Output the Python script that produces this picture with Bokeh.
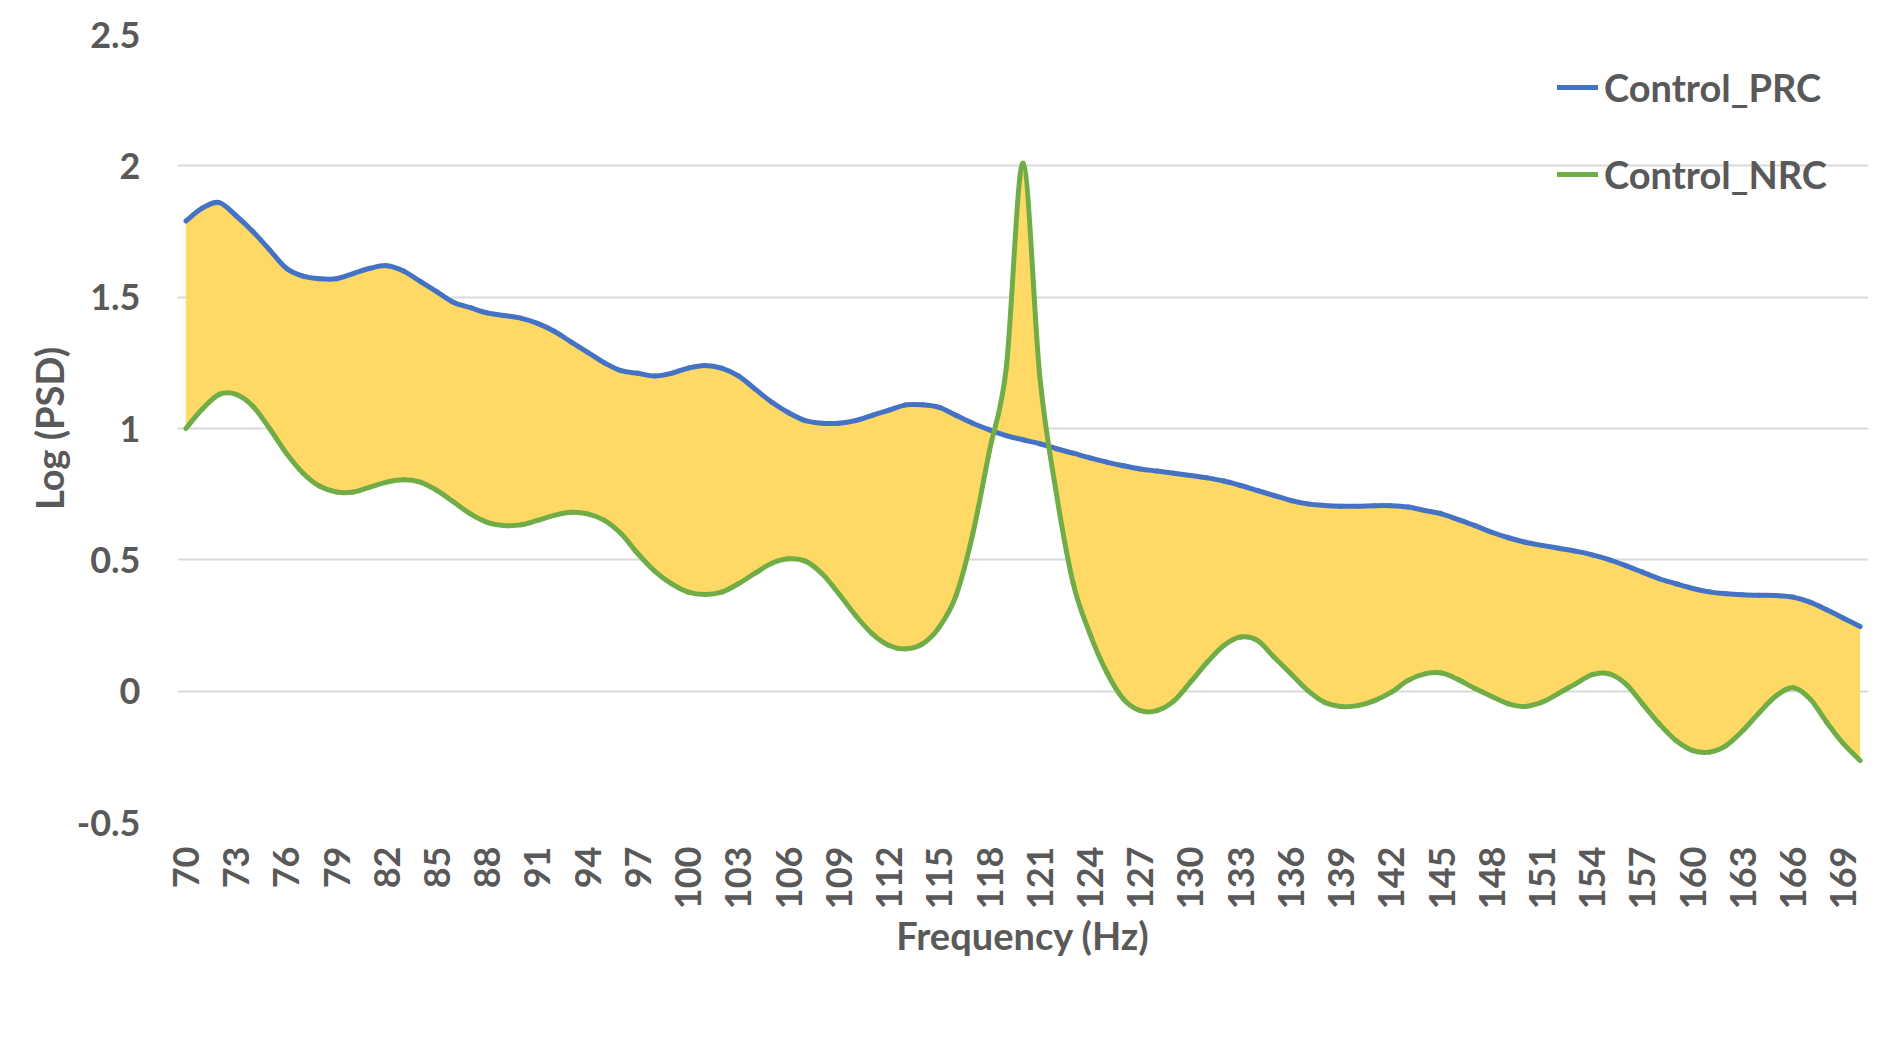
import math
from bokeh.plotting import figure
from bokeh.models import Range1d, FixedTicker, Legend, LegendItem, ColumnDataSource
from bokeh.embed import file_html
from bokeh.resources import INLINE

# ---- data ----
freq = list(range(70, 171))

control_prc = [
    1.79, 1.84, 1.86, 1.81, 1.75, 1.68, 1.61, 1.58, 1.57, 1.57,   # 70-79
    1.59, 1.61, 1.62, 1.60, 1.56, 1.52, 1.48, 1.46, 1.44, 1.43,   # 80-89
    1.42, 1.40, 1.37, 1.33, 1.29, 1.25, 1.22, 1.21, 1.20, 1.21,   # 90-99
    1.23, 1.24, 1.23, 1.20, 1.15, 1.10, 1.06, 1.03, 1.02, 1.02,   # 100-109
    1.03, 1.05, 1.07, 1.09, 1.09, 1.08, 1.05, 1.02, 0.995, 0.973, # 110-119
    0.957, 0.942, 0.923, 0.906, 0.888, 0.872, 0.858, 0.846, 0.838, 0.830,  # 120-129
    0.821, 0.812, 0.800, 0.783, 0.764, 0.745, 0.726, 0.713, 0.707, 0.704,  # 130-139
    0.704, 0.706, 0.706, 0.701, 0.688, 0.675, 0.653, 0.630, 0.605, 0.584,  # 140-149
    0.567, 0.555, 0.544, 0.533, 0.519, 0.501, 0.478, 0.453, 0.428, 0.409,  # 150-159
    0.391, 0.378, 0.371, 0.367, 0.365, 0.364, 0.358, 0.339, 0.310, 0.278,  # 160-169
    0.246,                                                                 # 170
]

control_nrc = [
    1.00, 1.075, 1.13, 1.13, 1.085, 1.00, 0.906, 0.83, 0.78, 0.758,        # 70-79
    0.758, 0.777, 0.796, 0.805, 0.796, 0.764, 0.72, 0.675, 0.643, 0.631,   # 80-89
    0.633, 0.65, 0.669, 0.681, 0.675, 0.65, 0.599, 0.523, 0.457, 0.409,    # 90-99
    0.377, 0.368, 0.377, 0.409, 0.449, 0.487, 0.504, 0.495, 0.447, 0.371,  # 100-109
    0.288, 0.218, 0.174, 0.161, 0.18, 0.244, 0.364, 0.599, 0.916, 1.23,    # 110-119
    2.01, 1.2, 0.75, 0.41, 0.218, 0.072, -0.03, -0.074, -0.074, -0.038,    # 120-129
    0.034, 0.11, 0.174, 0.206, 0.193, 0.129, 0.066, 0.003, -0.042, -0.058, # 130-139
    -0.055, -0.036, -0.004, 0.041, 0.066, 0.069, 0.044, 0.01, -0.02, -0.048,  # 140-149
    -0.058, -0.042, -0.008, 0.028, 0.063, 0.066, 0.028, -0.048, -0.124, -0.188,  # 150-159
    -0.226, -0.232, -0.207, -0.15, -0.08, -0.017, 0.013, -0.029, -0.118, -0.2,   # 160-169
    -0.264,                                                                      # 170
]

series_names = ["Control_PRC", "Control_NRC"]
x_ticks = list(range(70, 170, 3))
y_ticks = [-0.5, 0, 0.5, 1, 1.5, 2, 2.5]
y_tick_labels = ["-0.5", "0", "0.5", "1", "1.5", "2", "2.5"]

FONT = "Lato"
TEXT_COLOR = "#595959"
TICK_FS = "36px"
TITLE_FS = "38px"


def smooth_segments(xs, ys):
    """Spreadsheet-style smoothed line: one cubic Bezier per pair of
    neighbouring data points, control points taken from the neighbours."""
    n = len(xs)
    cols = {k: [] for k in ("x0", "y0", "x1", "y1", "cx0", "cy0", "cx1", "cy1")}
    for i in range(n - 1):
        a, d = max(i - 1, 0), min(i + 2, n - 1)
        cols["x0"].append(xs[i]); cols["y0"].append(ys[i])
        cols["x1"].append(xs[i + 1]); cols["y1"].append(ys[i + 1])
        cols["cx0"].append(xs[i] + (xs[i + 1] - xs[a]) / 6.0)
        cols["cy0"].append(ys[i] + (ys[i + 1] - ys[a]) / 6.0)
        cols["cx1"].append(xs[i + 1] - (xs[d] - xs[i]) / 6.0)
        cols["cy1"].append(ys[i + 1] - (ys[d] - ys[i]) / 6.0)
    return ColumnDataSource(cols)


p = figure(
    width=1883, height=1053,
    output_backend="svg", toolbar_location=None,
    x_range=Range1d(69.5, 170.5), y_range=Range1d(-0.5, 2.5),
    min_border_left=177, min_border_right=15,
    min_border_top=34, min_border_bottom=231,
)
p.outline_line_color = None
p.background_fill_color = "white"
p.border_fill_color = "white"

p.varea(x=freq, y1=control_prc, y2=control_nrc, fill_color="#FFD966")

bz = dict(x0="x0", y0="y0", x1="x1", y1="y1", cx0="cx0", cy0="cy0", cx1="cx1", cy1="cy1")
r_prc = p.bezier(source=smooth_segments(freq, control_prc), line_color="#4472C4",
                 line_width=5, line_cap="round", **bz)
r_nrc = p.bezier(source=smooth_segments(freq, control_nrc), line_color="#70AD47",
                 line_width=5, line_cap="round", **bz)

# axes
p.xaxis.ticker = FixedTicker(ticks=x_ticks)
p.xaxis.major_label_orientation = math.pi / 2
p.yaxis.ticker = FixedTicker(ticks=y_ticks)
p.yaxis.major_label_overrides = dict(zip(y_ticks, y_tick_labels))
p.xaxis.axis_label = "Frequency (Hz)"
p.yaxis.axis_label = "Log (PSD)"

for ax in (p.xaxis[0], p.yaxis[0]):
    ax.axis_line_color = None
    ax.major_tick_line_color = None
    ax.minor_tick_line_color = None
    ax.major_tick_out = 0
    ax.major_tick_in = 0
    ax.major_label_text_font = FONT
    ax.major_label_text_font_style = "bold"
    ax.major_label_text_font_size = TICK_FS
    ax.major_label_text_color = TEXT_COLOR
    ax.axis_label_text_font = FONT
    ax.axis_label_text_font_style = "bold"
    ax.axis_label_text_font_size = TITLE_FS
    ax.axis_label_text_color = TEXT_COLOR

p.xaxis.major_label_standoff = 24
p.yaxis.major_label_standoff = 37
p.xaxis.axis_label_standoff = 0
p.yaxis.axis_label_standoff = 2

p.xgrid.visible = False
p.ygrid.grid_line_color = "#D9D9D9"
p.ygrid.grid_line_width = 2

legend = Legend(
    items=[LegendItem(label=series_names[0], renderers=[r_prc]),
           LegendItem(label=series_names[1], renderers=[r_nrc])],
    location=(1380, 625),
    margin=0, padding=0, spacing=41,
    glyph_width=41, glyph_height=20, label_standoff=6,
    label_text_font=FONT, label_text_font_style="bold",
    label_text_font_size=TITLE_FS, label_text_color=TEXT_COLOR,
    border_line_color=None, background_fill_alpha=0,
)
p.add_layout(legend)

open("out.html", "w").write(file_html(p, INLINE))
